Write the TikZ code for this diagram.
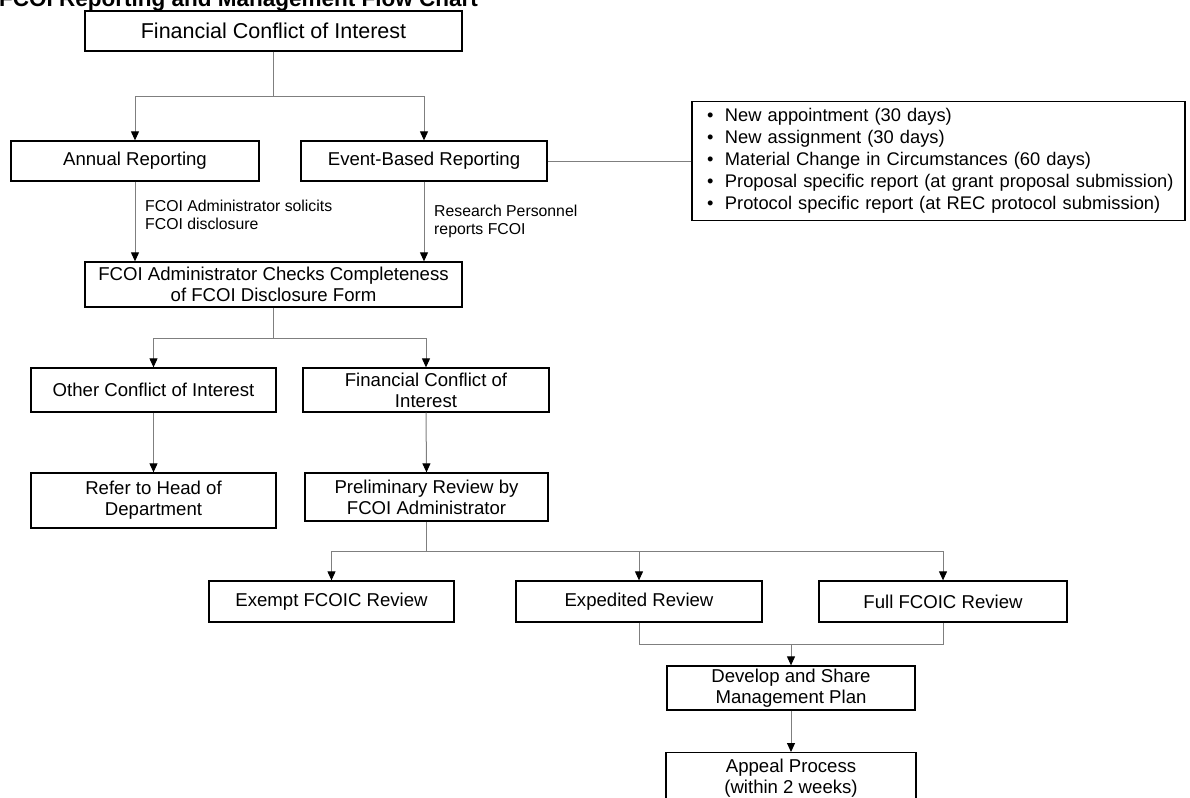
\documentclass[tikz,border=0pt]{standalone}
\usepackage{fontspec}
\setmainfont{Liberation Sans}
\usetikzlibrary{arrows.meta}
\definecolor{linegray}{HTML}{7F7F7F}
\newcommand{\bul}{\makebox[26.5pt][l]{\hspace{8.5pt}•}}
\begin{document}
\begin{tikzpicture}[x=1pt,y=-1pt,
  box/.style={draw=black, line width=1.3pt, inner sep=2pt, align=center,
    font=\fontsize{18.6}{21}\selectfont},
  topbox/.style={box, font=\fontsize{21.5}{24}\selectfont},
  lbl/.style={inner sep=0pt, align=left, font=\fontsize{15.8}{18}\selectfont},
  line/.style={draw=linegray, line width=1pt},
  arr/.style={line, -{Triangle[length=9pt,width=8pt,black]}}
]
\useasboundingbox (0,0) rectangle (1190,797);

% title (cut at top)
\node[anchor=base west, inner sep=0pt, font=\fontsize{22.5}{26}\selectfont\bfseries] (title) at (-1,7) {FCOI Reporting and Management Flow Chart};

% boxes
\node[topbox, minimum width=377pt, minimum height=40pt] (top) at (273.5,31) {Financial Conflict of Interest};
\node[box, minimum width=248pt, minimum height=40pt] (annual) at (135,161) {Annual Reporting};
\node[box, minimum width=246pt, minimum height=40pt] (event) at (424,161) {Event-Based Reporting};
\node[box, minimum width=493pt, minimum height=119pt, text width=480pt, inner xsep=6.5pt, align=left,
  font=\fontsize{18.3}{22}\selectfont] (bullets) at (938.5,161)
  {\bul New appointment (30 days)\\
   \bul New assignment (30 days)\\
   \bul Material Change in Circumstances (60 days)\\
   \bul Proposal specific report (at grant proposal submission)\\
   \bul Protocol specific report (at REC protocol submission)};
\node[box, minimum width=377pt, minimum height=45pt] (checks) at (273.5,284.5) {FCOI Administrator Checks Completeness\\of FCOI Disclosure Form};
\node[box, minimum width=245pt, minimum height=44pt] (other) at (153.5,390) {Other Conflict of Interest};
\node[box, minimum width=246pt, minimum height=44pt] (fin) at (426,390) {Financial Conflict of\\Interest};
\node[box, minimum width=245pt, minimum height=55pt] (refer) at (153.5,500.5) {Refer to Head of\\Department};
\node[box, minimum width=243pt, minimum height=48pt] (prelim) at (426.5,497) {Preliminary Review by\\FCOI Administrator};
\node[box, minimum width=245pt, minimum height=41pt] (exempt) at (331.5,601.5) {Exempt FCOIC Review};
\node[box, minimum width=246pt, minimum height=41pt] (exped) at (639,601.5) {Expedited Review};
\node[box, minimum width=248pt, minimum height=41pt] (full) at (943,601.5) {Full FCOIC Review};
\node[box, minimum width=248pt, minimum height=44pt] (develop) at (791,688) {Develop and Share\\Management Plan};
\node[box, anchor=north, minimum width=250pt, minimum height=52pt] (appeal) at (791,752) {Appeal Process\\(within 2 weeks)};

% labels
\node[lbl, anchor=west] (lab1) at (145,215) {FCOI Administrator solicits\\FCOI disclosure};
\node[lbl, anchor=west] (lab2) at (434,221) {Research Personnel\\reports FCOI};

% junctions
\coordinate (j1) at (273.5,97);
\coordinate (j2) at (273.5,338);
\coordinate (j3) at (426.5,551);
\coordinate (j4) at (791,644);

% connectors
\draw[line] (top.south) -- (j1);
\draw[arr] (j1) -| (annual.north);
\draw[arr] (j1) -| (event.north);
\draw[line] (event.east) -- (bullets.west);
\draw[arr] (annual.south) -- (annual.south |- checks.north);
\draw[arr] (event.south) -- (event.south |- checks.north);
\draw[line] (checks.south) -- (j2);
\draw[arr] (j2) -| (other.north);
\draw[arr] (j2) -| (fin.north);
\draw[arr] (other.south) -- (refer.north);
\draw[arr] (fin.south) -- (prelim.north);
\draw[line] (prelim.south) -- (j3);
\draw[arr] (j3) -| (exempt.north);
\draw[arr] (j3) -| (exped.north);
\draw[arr] (j3) -| (full.north);
\draw[line] (exped.south) |- (j4);
\draw[line] (full.south) |- (j4);
\draw[arr] (j4) -- (develop.north);
\draw[arr] (develop.south) -- (appeal.north);
\end{tikzpicture}
\end{document}
